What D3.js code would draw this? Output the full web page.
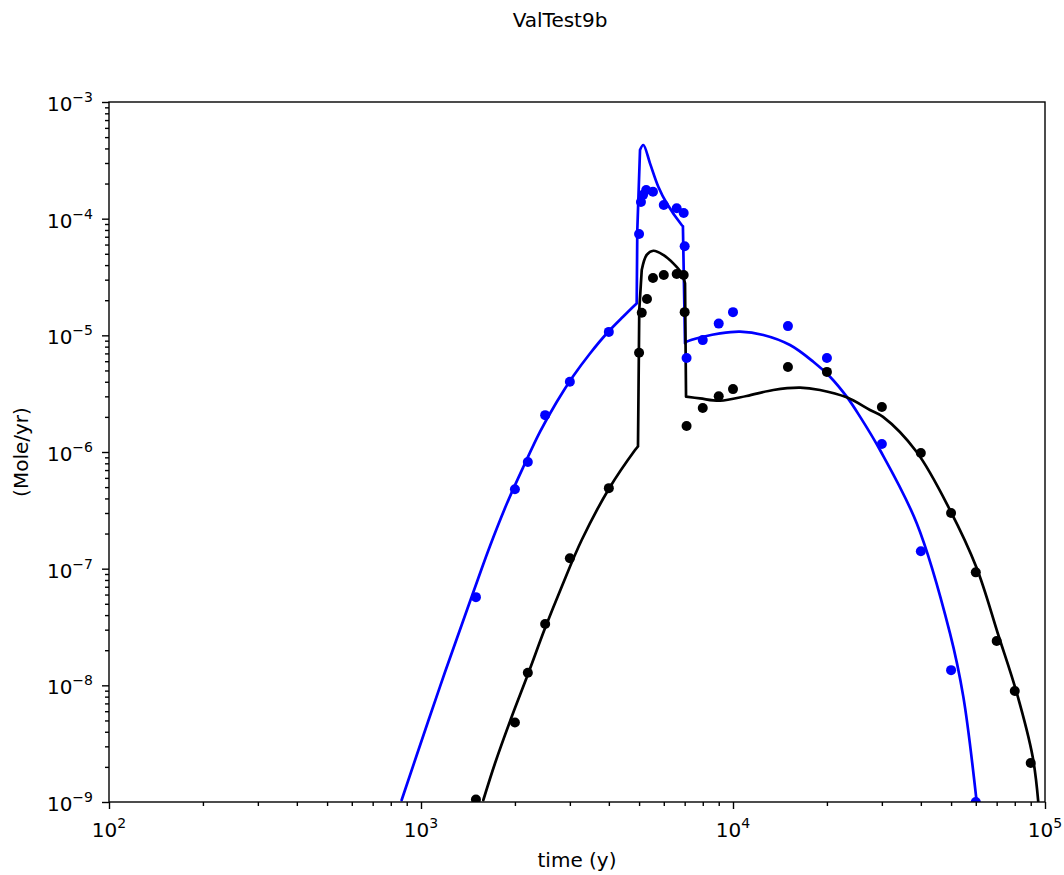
<!DOCTYPE html>
<html>
<head>
<meta charset="utf-8">
<script src="https://cdn.jsdelivr.net/npm/d3@7"></script>
<style>
  html, body { margin: 0; padding: 0; background: #fff; }
  svg { display: block; font-family: "DejaVu Sans", sans-serif; }
</style>
</head>
<body>
<svg id="chart" width="1064" height="875"></svg>
<script>
// ---------------- data ----------------
const title = "ValTest9b";
const xLabel = "time (y)";
const yLabel = "(Mole/yr)";

const xTickExponents = [2, 3, 4, 5];
const yTickExponents = [-9, -8, -7, -6, -5, -4, -3];

// Blue model curve (time, value)
const blueCurveT = [867, 1055, 1194, 1350, 1527, 1664, 1882, 2128, 2406, 2722, 3077, 3481, 3937, 4450, 4853, 4913,
  4935, 5035, 5160, 5420, 5763, 6131, 6848, 6910, 7018,
  7107, 8031, 9085, 10530, 12510, 15230, 18090, 20460, 23140, 25530, 29590,
  38800, 49610, 54720, 60400];
const blueCurveV = [1.04e-9, 4.95e-9, 1.30e-8, 3.29e-8, 8.32e-8, 1.565e-7, 3.58e-7, 7.44e-7, 1.485e-6, 2.68e-6, 4.48e-6, 6.99e-6, 1.037e-5, 1.45e-5, 1.82e-5, 1.875e-5,
  8.0e-5, 3.88e-4, 4.28e-4, 2.98e-4, 1.88e-4, 1.355e-4, 8.83e-5, 8.6e-5, 8.55e-6,
  8.83e-6, 9.73e-6, 1.04e-5, 1.075e-5, 1.007e-5, 8.26e-6, 5.94e-6, 4.42e-6, 2.98e-6, 2.01e-6, 1.04e-6,
  2.45e-7, 2.79e-8, 8.0e-9, 1.0e-9];

// Black model curve
const blackCurveT = [1584, 1727, 1953, 2208, 2497, 2825, 3274, 4012, 4853, 4960,
  5007, 5099, 5290, 5555, 5977, 6436, 6848, 7018, 7071,
  7837, 9085, 11060, 13470, 16400, 19000, 23140, 27490, 30260,
  38800, 49610, 60400, 70850, 81180, 91330, 95170];
const blackCurveV = [1.04e-9, 2.15e-9, 5.38e-9, 1.27e-8, 3.08e-8, 7.01e-8, 1.76e-7, 4.89e-7, 1.04e-6, 1.12e-6,
  1.65e-5, 3.63e-5, 4.89e-5, 5.31e-5, 4.89e-5, 4.14e-5, 3.40e-5, 2.79e-5, 2.98e-6,
  2.88e-6, 2.75e-6, 3.02e-6, 3.40e-6, 3.56e-6, 3.40e-6, 2.94e-6, 2.29e-6, 2.0e-6,
  1.0e-6, 3.18e-7, 1.013e-7, 2.70e-8, 8.6e-9, 2.43e-9, 1.0e-9];

// Blue observations
const blueDotsT = [1500, 2000, 2200, 2500, 3000, 4000, 5000, 5070, 5150, 5270, 5540, 6000, 6600,
  6950, 7000, 7100, 8000, 9000, 10000, 15000, 20000, 30000, 40000, 50000, 60000];
const blueDotsV = [5.7e-8, 4.8e-7, 8.2e-7, 2.07e-6, 4.0e-6, 1.07e-5, 7.4e-5, 1.39e-4, 1.6e-4, 1.76e-4, 1.7e-4, 1.31e-4, 1.23e-4,
  1.12e-4, 5.8e-5, 6.4e-6, 9.1e-6, 1.26e-5, 1.58e-5, 1.2e-5, 6.4e-6, 1.17e-6, 1.41e-7, 1.35e-8, 1.0e-9];

// Black observations
const blackDotsT = [1500, 2000, 2200, 2500, 3000, 4000, 5000, 5100, 5300, 5540, 6000, 6600, 6950, 7000, 7100,
  8000, 9000, 10000, 15000, 20000, 30000, 40000, 50000, 60000, 70000, 80000, 90000];
const blackDotsV = [1.05e-9, 4.8e-9, 1.28e-8, 3.36e-8, 1.23e-7, 4.9e-7, 7.1e-6, 1.56e-5, 2.05e-5, 3.1e-5, 3.29e-5, 3.36e-5, 3.29e-5, 1.58e-5, 1.67e-6,
  2.38e-6, 3.0e-6, 3.46e-6, 5.36e-6, 4.86e-6, 2.43e-6, 9.8e-7, 3.0e-7, 9.3e-8, 2.4e-8, 8.95e-9, 2.16e-9];

// ---------------- layout ----------------
const L = 109, R = 1045, T = 102, B = 802;
const svg = d3.select("#chart");

const x = d3.scaleLog().domain([1e2, 1e5]).range([L, R]);
const y = d3.scaleLog().domain([1e-9, 1e-3]).range([B, T]);

function minorTicks(lo, hi) {
  const out = [];
  for (let e = lo; e < hi; e++) for (let m = 2; m <= 9; m++) out.push(m * Math.pow(10, e));
  return out;
}
const xMajor = xTickExponents.map(e => Math.pow(10, e));
const yMajor = yTickExponents.map(e => Math.pow(10, e));

svg.append("defs").append("clipPath").attr("id", "clip")
  .append("rect").attr("x", L).attr("y", T).attr("width", R - L).attr("height", B - T);

// axes ticks
const gx = svg.append("g").attr("transform", `translate(0,${B})`);
gx.call(d3.axisBottom(x).tickValues(minorTicks(2, 5)).tickSize(4).tickFormat(""));
gx.call(g => g.select(".domain").remove());
const gx2 = svg.append("g").attr("transform", `translate(0,${B})`);
gx2.call(d3.axisBottom(x).tickValues(xMajor).tickSize(7).tickFormat(""));
gx2.call(g => g.select(".domain").remove());

const gy = svg.append("g").attr("transform", `translate(${L},0)`);
gy.call(d3.axisLeft(y).tickValues(minorTicks(-9, -3)).tickSize(4).tickFormat(""));
gy.call(g => g.select(".domain").remove());
const gy2 = svg.append("g").attr("transform", `translate(${L},0)`);
gy2.call(d3.axisLeft(y).tickValues(yMajor).tickSize(7).tickFormat(""));
gy2.call(g => g.select(".domain").remove());

svg.selectAll(".tick line").attr("stroke", "#000").attr("stroke-width", 1.4);

// tick labels with superscripts
const xl = svg.append("g").selectAll("text").data(xTickExponents).join("text")
  .attr("x", d => x(Math.pow(10, d)))
  .attr("y", 837)
  .attr("text-anchor", "middle")
  .attr("font-size", 20)
  .attr("fill", "#000");
xl.append("tspan").text("10");
xl.append("tspan").attr("dy", -9).attr("font-size", 14).text(d => String(d));

const yl = svg.append("g").selectAll("text").data(yTickExponents).join("text")
  .attr("x", 93)
  .attr("y", d => y(Math.pow(10, d)) + 9)
  .attr("text-anchor", "end")
  .attr("font-size", 20)
  .attr("fill", "#000");
yl.append("tspan").text("10");
yl.append("tspan").attr("dy", -9).attr("font-size", 14).text(d => "\u2212" + Math.abs(d));

// curves: smooth runs through the read points, straight segments across the steep jumps
function curvePath(ts, vs) {
  const px = ts.map((t, i) => [x(t), y(vs[i])]);
  const segs = [];
  let cur = [px[0]];
  for (let i = 1; i < px.length; i++) {
    const dx = px[i][0] - px[i - 1][0];
    const dy = Math.abs(px[i][1] - px[i - 1][1]);
    if (dy > 12 * dx) {
      if (cur.length > 1) segs.push({ pts: cur, smooth: true });
      segs.push({ pts: [px[i - 1], px[i]], smooth: false });
      cur = [px[i]];
    } else {
      cur.push(px[i]);
    }
  }
  if (cur.length > 1) segs.push({ pts: cur, smooth: true });
  return segs.map(s => d3.line().curve(s.smooth ? d3.curveCatmullRom.alpha(0.5) : d3.curveLinear)(s.pts)).join("");
}

const plot = svg.append("g").attr("clip-path", "url(#clip)");

plot.append("path").attr("d", curvePath(blueCurveT, blueCurveV))
  .attr("fill", "none").attr("stroke", "#0000ff").attr("stroke-width", 2.7)
  .attr("stroke-linejoin", "round").attr("stroke-linecap", "round");
plot.append("path").attr("d", curvePath(blackCurveT, blackCurveV))
  .attr("fill", "none").attr("stroke", "#000").attr("stroke-width", 2.7)
  .attr("stroke-linejoin", "round").attr("stroke-linecap", "round");

// dots
plot.append("g").selectAll("circle").data(blueDotsT.map((t, i) => [t, blueDotsV[i]])).join("circle")
  .attr("cx", d => x(d[0])).attr("cy", d => y(d[1])).attr("r", 5).attr("fill", "#0000ff");
plot.append("g").selectAll("circle").data(blackDotsT.map((t, i) => [t, blackDotsV[i]])).join("circle")
  .attr("cx", d => x(d[0])).attr("cy", d => y(d[1])).attr("r", 5).attr("fill", "#000");

// spines
svg.append("rect").attr("x", L).attr("y", T).attr("width", R - L).attr("height", B - T)
  .attr("fill", "none").attr("stroke", "#000").attr("stroke-width", 1.4);

// titles
svg.append("text").attr("x", 560).attr("y", 27).attr("text-anchor", "middle")
  .attr("font-size", 20).attr("fill", "#000").text(title);
svg.append("text").attr("x", (L + R) / 2).attr("y", 867).attr("text-anchor", "middle")
  .attr("font-size", 20).attr("fill", "#000").text(xLabel);
svg.append("text").attr("transform", `translate(28,${(T + B) / 2}) rotate(-90)`)
  .attr("text-anchor", "middle").attr("font-size", 20).attr("fill", "#000").text(yLabel);
</script>
</body>
</html>
